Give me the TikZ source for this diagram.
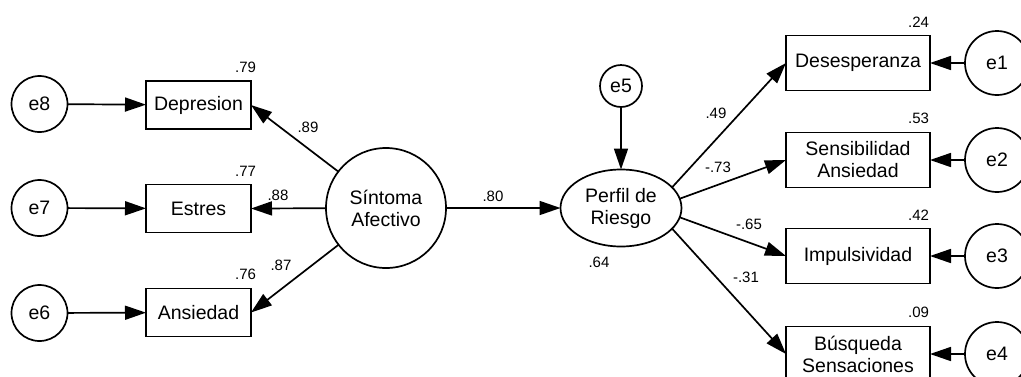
\documentclass[tikz,border=0pt]{standalone}
\usepackage{fontspec}
\setmainfont{Liberation Sans}
\usetikzlibrary{arrows.meta,shapes.geometric}
\begin{document}
\begin{tikzpicture}[x=1pt,y=-1pt,
  every node/.style={inner sep=0pt, outer sep=0pt},
  nodefont/.style={font=\fontsize{19.5}{22}\selectfont},
  errL/.style={draw, circle, line width=1.7pt, minimum size=56pt, nodefont},
  errR/.style={draw, circle, line width=1.7pt, minimum size=64pt, nodefont},
  errM/.style={draw, circle, line width=1.7pt, minimum size=42pt, nodefont},
  obsL/.style={draw, rectangle, line width=1.7pt, minimum width=105pt, minimum height=48pt, nodefont, align=center},
  obsR/.style={draw, rectangle, line width=1.7pt, minimum width=144pt, minimum height=55pt, nodefont, align=center},
  lbl/.style={font=\fontsize{15}{17}\selectfont},
  conn/.style={line width=1.7pt, -{Triangle[length=21pt,width=14pt]}}
]
\useasboundingbox (0,0) rectangle (1021,376);

% left block
\node[errL] (e8) at (39.5,104) {e8};
\node[errL] (e7) at (39.5,208) {e7};
\node[errL] (e6) at (39.5,313) {e6};
\node[obsL] (dep) at (198.5,105) {Depresion};
\node[obsL] (est) at (198.5,208.5) {Estres};
\node[obsL] (ans) at (198.5,312.5) {Ansiedad};
\node[draw, circle, line width=1.7pt, minimum size=120pt, nodefont, align=center] (sa) at (386,208) {Síntoma\\Afectivo};

% middle
\node[draw, ellipse, line width=1.7pt, minimum width=121pt, minimum height=77pt, nodefont, align=center] (pr) at (621,208) {Perfil de\\Riesgo};
\node[errM] (e5) at (621,86) {e5};

% right block
\node[obsR] (des) at (858,63) {Desesperanza};
\node[obsR] (sen) at (858,160) {Sensibilidad\\Ansiedad};
\node[obsR] (imp) at (858,256) {Impulsividad};
\node[obsR] (bus) at (858,354) {Búsqueda\\Sensaciones};
\node[errR] (e1) at (997,63) {e1};
\node[errR] (e2) at (997,160) {e2};
\node[errR] (e3) at (997,256) {e3};
\node[errR] (e4) at (997,354) {e4};

% connectors
\draw[conn] (e8) -- (dep);
\draw[conn] (e7) -- (est);
\draw[conn] (e6) -- (ans);
\draw[conn] (sa) -- (dep.east);
\draw[conn] (sa) -- (est.east);
\draw[conn] (sa) -- (ans.east);
\draw[conn] (sa) -- (pr);
\draw[conn] (e5) -- (pr);
\draw[conn] (pr.22) -- (des.west);
\draw[conn] (pr.9) -- (sen.west);
\draw[conn] (pr.-9) -- (imp.west);
\draw[conn] (pr.-22) -- (bus.west);
\draw[conn] (e1) -- (des);
\draw[conn] (e2) -- (sen);
\draw[conn] (e3) -- (imp);
\draw[conn] (e4) -- (bus);

% R^2 labels
\node[lbl, anchor=base east] (r1) at (256,72) {.79};
\node[lbl, anchor=base east] (r2) at (256,176) {.77};
\node[lbl, anchor=base east] (r3) at (256,279) {.76};
\node[lbl, anchor=base east] (r4) at (929,27) {.24};
\node[lbl, anchor=base east] (r5) at (929,123) {.53};
\node[lbl, anchor=base east] (r6) at (929,220) {.42};
\node[lbl, anchor=base east] (r7) at (929,317) {.09};
\node[lbl] (r8) at (599,262) {.64};

% path labels
\node[lbl] (p1) at (308,127) {.89};
\node[lbl] (p2) at (278,195) {.88};
\node[lbl] (p3) at (281,265) {.87};
\node[lbl] (p4) at (493,196) {.80};
\node[lbl] (p5) at (716,113) {.49};
\node[lbl] (p6) at (718,167) {-.73};
\node[lbl] (p7) at (749,224) {-.65};
\node[lbl] (p8) at (746,277) {-.31};
\end{tikzpicture}
\end{document}
